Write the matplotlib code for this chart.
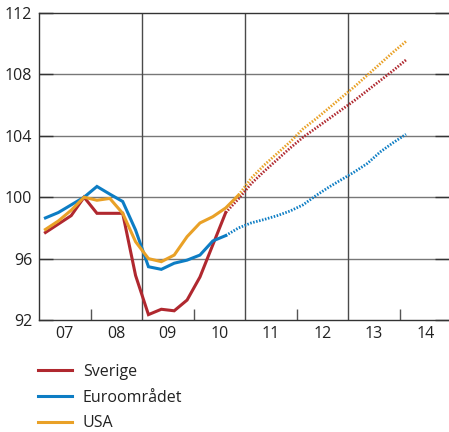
import matplotlib
matplotlib.use("Agg")
import matplotlib.pyplot as plt
import numpy as np

plt.rcParams['font.family'] = ['Open Sans', 'DejaVu Sans']

# Quarterly GDP index, 2007Q4 = 100
first_year = 2007
sverige_outcome = [97.7, 98.25, 98.8, 100.0, 98.95, 98.95, 98.95, 94.9, 92.35, 92.7,
                   92.6, 93.3, 94.8, 96.9, 99.0]                       # 2007Q1-2010Q3
sverige_forecast = [99.0, 99.9, 100.9, 101.7, 102.45, 103.2, 103.9, 104.5, 105.1,
                    105.7, 106.3, 106.95, 107.6, 108.25, 108.94]        # 2010Q3-2014Q1
euro_outcome = [98.65, 99.0, 99.5, 100.0, 100.7, 100.2, 99.72, 97.86, 95.47, 95.3,
                95.7, 95.9, 96.23, 97.15, 97.5]                         # 2007Q1-2010Q3
euro_forecast = [97.5, 98.0, 98.33, 98.55, 98.8, 99.1, 99.5, 100.1, 100.65, 101.15,
                 101.65, 102.2, 102.95, 103.55, 104.1]                  # 2010Q3-2014Q1
usa_outcome = [97.9, 98.45, 99.15, 100.0, 99.8, 99.92, 98.95, 97.1, 96.0, 95.8,
               96.23, 97.43, 98.32, 98.73, 99.3, 100.14]                # 2007Q1-2010Q4
usa_forecast = [100.14, 101.25, 102.1, 102.85, 103.6, 104.45, 105.1, 105.8, 106.5,
                107.2, 107.95, 108.7, 109.45, 110.15]                   # 2010Q4-2014Q1

series_names = ["Sverige", "Euroområdet", "USA"]
series_colors = ["#b0282f", "#0d7dc4", "#e9a127"]
year_labels = ["07", "08", "09", "10", "11", "12", "13", "14"]
y_ticks = [92, 96, 100, 104, 108, 112]


def quarter_x(start_index, n):
    idx = np.arange(start_index, start_index + n)
    return first_year + (idx + 0.5) / 4.0


fig = plt.figure(figsize=(4.49, 4.32), dpi=100)
ax = fig.add_axes([39 / 449, 1 - 320 / 432, 1 - 39 / 449, (320 - 13) / 432])

grid_color = "#777777"
axis_color = "#333333"

# horizontal grid and selected vertical year dividers
for y in y_ticks[1:-1]:
    ax.axhline(y, color=grid_color, lw=1.0, zorder=1)
for yr in (2009, 2011, 2013):
    ax.axvline(yr, color="#4a4a4a", lw=1.0, zorder=1)

outcomes = [sverige_outcome, euro_outcome, usa_outcome]
forecasts = [sverige_forecast, euro_forecast, usa_forecast]
handles = []
for name, color, out, fc in zip(series_names, series_colors, outcomes, forecasts):
    xo = quarter_x(0, len(out))
    h, = ax.plot(xo, out, color=color, lw=2.2, solid_joinstyle="miter", zorder=3, label=name)
    handles.append(h)
    xf = quarter_x(len(out) - 1, len(fc))
    ax.plot(xf, fc, color=color, lw=2.0, linestyle=(0, (0.55, 0.55)), zorder=3)

ax.set_xlim(2007.0, 2014.96)
ax.set_ylim(92, 112)

ax.set_yticks(y_ticks)
ax.set_yticklabels([str(v) for v in y_ticks])
ax.tick_params(axis="y", direction="in", length=10, width=1.0, color=axis_color,
               labelsize=11.5, labelcolor="#222222", pad=5, right=True)

ax.set_xticks([2008, 2010, 2012, 2014])
ax.set_xticklabels([])
ax.set_xticks([first_year + i + 0.5 for i in range(len(year_labels))], minor=True)
ax.set_xticklabels(year_labels, minor=True)
ax.tick_params(axis="x", which="major", direction="in", length=8, width=1.0, color="#555555")
ax.tick_params(axis="x", which="minor", length=0, labelsize=11.5, labelcolor="#222222", pad=4)

for side in ("left", "bottom", "top"):
    ax.spines[side].set_color(axis_color)
    ax.spines[side].set_linewidth(1.0)
ax.spines["right"].set_visible(False)

leg = fig.legend(handles=handles, labels=series_names, loc="upper left",
                 bbox_to_anchor=(38 / 449, 1 - 364 / 432), frameon=False,
                 fontsize=11.5, handlelength=2.1, handletextpad=0.7,
                 labelspacing=0.6, borderpad=0, borderaxespad=0)
for line in leg.get_lines():
    line.set_linewidth(2.2)
for t in leg.get_texts():
    t.set_color("#222222")

fig.savefig("out.png", dpi=100)
